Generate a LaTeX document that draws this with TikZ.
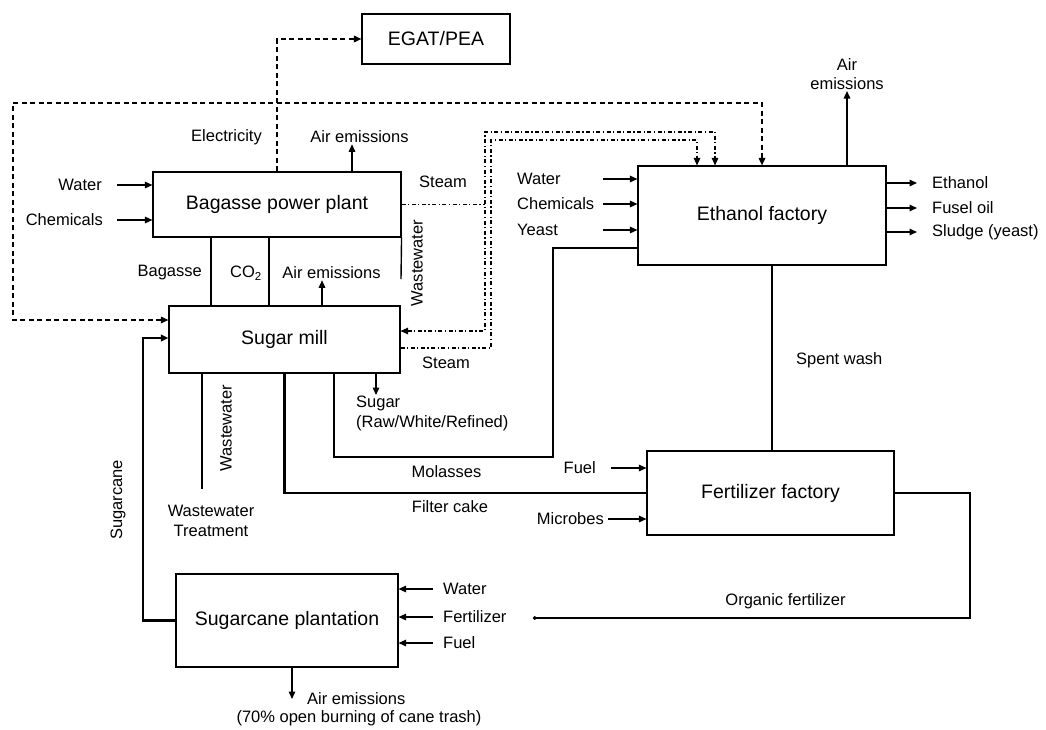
\documentclass[tikz,border=0pt]{standalone}
\usepackage{fontspec}
\setmainfont{Liberation Sans}
\usetikzlibrary{arrows.meta}
\begin{document}
\begin{tikzpicture}[x=1pt,y=-1pt,
  box/.style={draw,line width=1.1pt,inner sep=0pt,font=\fontsize{19.5}{22}\selectfont},
  lbl/.style={inner sep=1pt,font=\fontsize{16.5}{19.5}\selectfont},
  tip/.style={-{Triangle[length=7.5pt,width=6.5pt]}},
  tips/.style={{Triangle[length=7.5pt,width=6.5pt]}-{Triangle[length=7.5pt,width=6.5pt]}},
  flow/.style={line width=1.4pt},
  thickflow/.style={line width=2.2pt},
  elec/.style={line width=1.6pt,dash pattern=on 5pt off 3.5pt},
  steam/.style={line width=1.3pt,dash pattern=on 4pt off 2.5pt on 1.2pt off 2.5pt},
]
\useasboundingbox[fill=white] (0,0) rectangle (1046,729);

% boxes
\node[box,minimum width=148pt,minimum height=50pt] (egat) at (436,39) {EGAT/PEA};
\node[box,minimum width=248pt,minimum height=65pt] (bpp) at (277,204.5) {Bagasse power plant};
\node[box,minimum width=231pt,minimum height=67pt] (sugar) at (284.5,339.5) {Sugar mill};
\node[box,minimum width=248pt,minimum height=99pt] (eth) at (762,215.5) {Ethanol factory};
\node[box,minimum width=247pt,minimum height=84pt] (fert) at (770.5,493) {Fertilizer factory};
\node[box,minimum width=222pt,minimum height=93pt] (plant) at (287,620.5) {Sugarcane plantation};

% labels
\node[lbl] (elecL) at (226.5,137) {Electricity};
\node[lbl] (ae1) at (359.5,137) {Air emissions};
\node[lbl] (steam1) at (443,182) {Steam};
\node[lbl,rotate=90] (wwL1) at (417,263) {Wastewater};
\node[lbl,anchor=east] (bagL) at (203,273) {Bagasse};
\node[lbl] (co2L) at (246,273) {CO\textsubscript{2}};
\node[lbl] (ae2) at (331.5,273) {Air emissions};
\node[lbl] (steam2) at (446,363) {Steam};
\node[lbl,anchor=east] (bw) at (103,185) {Water};
\node[lbl,anchor=east] (bc) at (104,220) {Chemicals};
\node[lbl,rotate=90] (wwL2) at (226,428) {Wastewater};
\node[lbl,align=center] (wwt) at (211,521) {Wastewater\\Treatment};
\node[lbl,rotate=90] (scL) at (118,500) {Sugarcane};
\node[lbl,anchor=north west,align=left] (sug) at (355,395) {Sugar\\(Raw/White/Refined)};
\node[lbl] (molL) at (446.5,472) {Molasses};
\node[lbl] (fcL) at (450,507) {Filter cake};
\node[lbl,anchor=east] (fuelL) at (597,468) {Fuel};
\node[lbl,anchor=east] (micL) at (605,519) {Microbes};
\node[lbl,anchor=west] (swL) at (795,360) {Spent wash};
\node[lbl] (ofL) at (785.5,601) {Organic fertilizer};
\node[lbl,anchor=west] (ewL) at (516,179) {Water};
\node[lbl,anchor=west] (ecL) at (516,204) {Chemicals};
\node[lbl,anchor=west] (eyL) at (516,230) {Yeast};
\node[lbl,anchor=west] (o1) at (931,183) {Ethanol};
\node[lbl,anchor=west] (o2) at (931,208) {Fusel oil};
\node[lbl,anchor=west] (o3) at (931,232) {Sludge (yeast)};
\node[lbl,align=center] (eaL) at (847,74) {Air\\emissions};
\node[lbl,anchor=west] (pw) at (442,589) {Water};
\node[lbl,anchor=west] (pf) at (442,617) {Fertilizer};
\node[lbl,anchor=west] (pu) at (442,643) {Fuel};
\node[lbl,anchor=west] (paL) at (306,699) {Air emissions};
\node[lbl] (paL2) at (359,718) {(70\% open burning of cane trash)};

% bend coordinates
\coordinate (d1) at (13,103);
\coordinate (s1) at (485,132);
\coordinate (s2) at (491,140);
\coordinate (ww1) at (401,279);
\coordinate (ww2) at (202,489);
\coordinate (sc) at (143,338);
\coordinate (m1) at (334,457);
\coordinate (m2) at (553,248);
\coordinate (of) at (970,618);
\coordinate (ofe) at (533,618);
\coordinate (eix) at (603,0);
\coordinate (eox) at (917,0);
\coordinate (pix) at (433,0);
\coordinate (fix) at (611,0);
\coordinate (mix) at (608,0);

% electricity
\draw[elec,tip] (bpp.north) |- (egat.west);
\draw[elec,tips] ([yshift=19.5pt]sugar.west) -| (d1) -| (eth.north);

% steam
\draw[steam,tips] ([yshift=8.5pt]sugar.east) -| (s1) -| ([xshift=-47pt]eth.north);
\draw[steam] (bpp.east) -- (bpp.east -| s1);
\draw[steam,tip] ([yshift=-8.5pt]sugar.east) -| (s2) -| ([xshift=-65pt]eth.north);

% bagasse plant
\draw[flow,tip] ([xshift=75pt]bpp.north) -- ([xshift=75pt]bpp.north |- ae1.south);
\draw[flow,tip] ([xshift=14pt]bw.east) -- (bw.east -| bpp.west);
\draw[flow,tip] ([xshift=13pt]bc.east) -- (bc.east -| bpp.west);
\draw[flow] ([xshift=-66pt]bpp.south) -- ([xshift=-66pt]bpp.south |- sugar.north);
\draw[flow] ([xshift=-8pt]bpp.south) -- ([xshift=-8pt]bpp.south |- sugar.north);
\draw[flow] (bpp.south east) -- (ww1);

% sugar mill
\draw[flow,tip] ([xshift=37.5pt]sugar.north) -- ([xshift=37.5pt]sugar.north |- ae2.south);
\draw[thickflow,tip] (plant.west) -| (sc) -- (sc -| sugar.west);
\draw[flow] (sugar.south -| ww2) -- (ww2);
\draw[thickflow] (sugar.south) |- (fert.west);
\draw[flow,tip] ([xshift=91.5pt]sugar.south) -- ([xshift=91.5pt]sugar.south |- sug.north);
\draw[thickflow] (sugar.south -| m1) -- (m1) -| (m2) -- (m2 -| eth.west);

% ethanol factory
\draw[flow,tip] (eix |- ewL.east) -- (eth.west |- ewL.east);
\draw[flow,tip] (eix |- ecL.east) -- (eth.west |- ecL.east);
\draw[flow,tip] (eix |- eyL.east) -- (eth.west |- eyL.east);
\draw[flow,tip] (eth.east |- o1.west) -- (eox |- o1.west);
\draw[flow,tip] (eth.east |- o2.west) -- (eox |- o2.west);
\draw[flow,tip] (eth.east |- o3.west) -- (eox |- o3.west);
\draw[flow,tip] ([xshift=85pt]eth.north) -- ([xshift=85pt]eth.north |- eaL.south);
\draw[thickflow] ([xshift=10pt]eth.south) -- ([xshift=10pt]eth.south |- fert.north);

% fertilizer factory
\draw[flow,tip] (fix |- fuelL.east) -- (fert.west |- fuelL.east);
\draw[flow,tip] (mix |- micL.east) -- (fert.west |- micL.east);
\draw[thickflow,-{Circle[length=3.5pt]}] (fert.east) -| (of) -- (ofe);

% plantation
\draw[flow,tip] (pix |- pw.west) -- (plant.east |- pw.west);
\draw[flow,tip] (pix |- pf.west) -- (plant.east |- pf.west);
\draw[flow,tip] (pix |- pu.west) -- (plant.east |- pu.west);
\draw[flow,tip] ([xshift=5pt]plant.south) -- ([xshift=5pt]plant.south |- paL.west);
\end{tikzpicture}
\end{document}
